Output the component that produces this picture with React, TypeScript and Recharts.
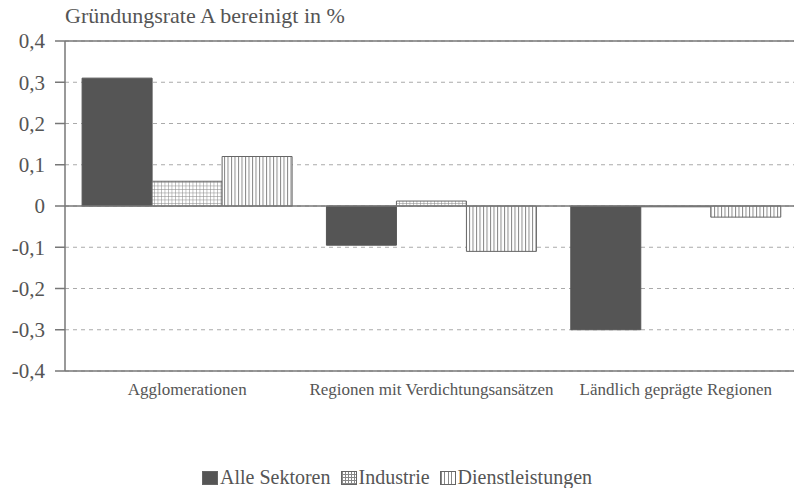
import { BarChart, Bar, XAxis, YAxis, CartesianGrid, ReferenceLine } from "recharts"

const regions = ["Agglomerationen", "Regionen mit Verdichtungsansätzen", "Ländlich geprägte Regionen"]
const alleSektoren = [0.31, -0.095, -0.3]
const industrie = [0.06, 0.012, -0.002]
const dienstleistungen = [0.12, -0.11, -0.027]
const yTicks = [0.4, 0.3, 0.2, 0.1, 0, -0.1, -0.2, -0.3, -0.4]

const data = regions.map((name, i) => ({
  name,
  alle: alleSektoren[i],
  industrie: industrie[i],
  dienst: dienstleistungen[i],
}))

const textColor = "#555"
const lineColor = "#777"
const font = "Liberation Serif"

const fmt = (v: number) => (v === 0 ? "0" : v.toFixed(1).replace(".", ","))

const swatchBase = { display: "inline-block", width: 16, height: 14, border: "1px solid #666", boxSizing: "border-box" as const, marginRight: 2 }

function ChartLegend() {
  return (
    <div
      style={{
        position: "absolute",
        left: 0,
        top: 466,
        width: 794,
        display: "flex",
        justifyContent: "center",
        alignItems: "center",
        fontFamily: font,
        fontSize: 20,
        color: textColor,
        gap: 10,
      }}
    >
      <span style={{ display: "flex", alignItems: "center" }}>
        <span style={{ ...swatchBase, background: "#555" }} />Alle Sektoren
      </span>
      <span style={{ display: "flex", alignItems: "center" }}>
        <span
          style={{
            ...swatchBase,
            background:
              "repeating-linear-gradient(90deg, #888 0 1px, transparent 1px 3px), repeating-linear-gradient(0deg, #888 0 1px, #fff 1px 3px)",
          }}
        />Industrie
      </span>
      <span style={{ display: "flex", alignItems: "center" }}>
        <span style={{ ...swatchBase, background: "repeating-linear-gradient(90deg, #888 0 1px, #fff 1px 3.5px)" }} />Dienstleistungen
      </span>
    </div>
  )
}

export default function App() {
  return (
    <div style={{ position: "absolute", left: 0, top: 0, width: 794, height: 488, overflow: "hidden", background: "#fff" }}>
      <div style={{ position: "absolute", left: 65, top: 3, fontFamily: font, fontSize: 22, color: textColor }}>
        Gründungsrate A bereinigt in %
      </div>
      <BarChart
        width={812}
        height={488}
        data={data}
        margin={{ top: 41, right: 14, left: 0, bottom: 87 }}
        barCategoryGap="7%"
        barGap={0}
      >
        <defs>
          <pattern id="gridPat" width="3.5" height="3.5" patternUnits="userSpaceOnUse">
            <rect width="3.5" height="3.5" fill="#fff" />
            <line x1="0" y1="0" x2="3.5" y2="0" stroke="#888" strokeWidth="1" />
            <line x1="0" y1="0" x2="0" y2="3.5" stroke="#888" strokeWidth="1" />
          </pattern>
          <pattern id="vertPat" width="3.5" height="3.5" patternUnits="userSpaceOnUse">
            <rect width="3.5" height="3.5" fill="#fff" />
            <line x1="0.5" y1="0" x2="0.5" y2="3.5" stroke="#888" strokeWidth="1" />
          </pattern>
        </defs>
        <CartesianGrid vertical={false} horizontal stroke="#aaa" strokeDasharray="4 4" />
        <XAxis
          dataKey="name"
          height={30}
          axisLine={{ stroke: lineColor, strokeWidth: 1.5 }}
          tickLine={false}
          tickMargin={6}
          tick={{ fill: textColor, fontFamily: font, fontSize: 17 }}
          interval={0}
        />
        <YAxis
          width={65}
          domain={[-0.4, 0.4]}
          ticks={yTicks}
          tickFormatter={fmt}
          tickSize={10}
          tickMargin={10}
          axisLine={{ stroke: lineColor, strokeWidth: 1.5 }}
          tickLine={{ stroke: lineColor, strokeWidth: 1.5 }}
          tick={{ fill: textColor, fontFamily: font, fontSize: 21 }}
          interval={0}
        />
        <ReferenceLine y={0.4} stroke={lineColor} strokeWidth={1.5} />
        <ReferenceLine y={0} stroke={lineColor} strokeWidth={1.5} />
        <Bar dataKey="alle" name="Alle Sektoren" fill="#555" stroke="#555" isAnimationActive={false} />
        <Bar dataKey="industrie" name="Industrie" fill="url(#gridPat)" stroke="#666" isAnimationActive={false} />
        <Bar dataKey="dienst" name="Dienstleistungen" fill="url(#vertPat)" stroke="#666" isAnimationActive={false} />
      </BarChart>
      <ChartLegend />
    </div>
  )
}
